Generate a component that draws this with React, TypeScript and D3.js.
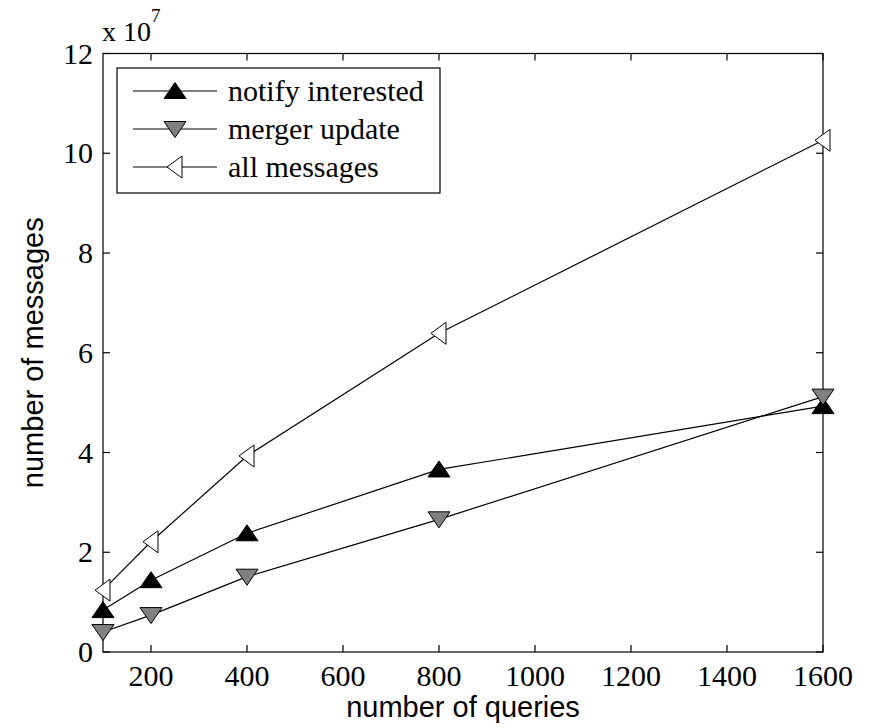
import { useEffect, useRef } from "react";
import * as d3 from "d3";

const queries = [100, 200, 400, 800, 1600];
const notifyInterested = [0.84, 1.44, 2.38, 3.66, 4.93];
const mergerUpdate = [0.4, 0.74, 1.51, 2.66, 5.12];
const allMessages = [1.24, 2.21, 3.93, 6.39, 10.26];
const xTicks = [200, 400, 600, 800, 1000, 1200, 1400, 1600];
const yTicks = [0, 2, 4, 6, 8, 10, 12];

type Shape = "up" | "down" | "left";

const series: { name: string; values: number[]; shape: Shape; fill: string }[] = [
  { name: "notify interested", values: notifyInterested, shape: "up", fill: "#000" },
  { name: "merger update", values: mergerUpdate, shape: "down", fill: "#808080" },
  { name: "all messages", values: allMessages, shape: "left", fill: "#fff" },
];

// marker outline, relative to its centre
const markerPath = (shape: Shape) => {
  if (shape === "up") return "M0,-8.5L11,7.5L-11,7.5Z";
  if (shape === "down") return "M0,8.5L11,-7.5L-11,-7.5Z";
  return "M-8,0L7,-11L7,11Z";
};

const App = () => {
  const ref = useRef<SVGSVGElement>(null!);

  useEffect(() => {
    document.body.style.margin = "0";
    const width = 869;
    const height = 728;
    const left = 103;
    const right = 823;
    const top = 53.5;
    const bottom = 652;
    const serif = "'Liberation Serif', 'Times New Roman', serif";
    const sans = "'Liberation Sans', Arial, sans-serif";

    const svg = d3.select(ref.current);
    svg.selectAll("*").remove();
    svg.attr("width", width).attr("height", height).style("background", "#fff");

    const x = d3.scaleLinear().domain([100, 1600]).range([left, right]);
    const y = d3.scaleLinear().domain([0, 12]).range([bottom, top]);
    const tick = 7;

    const axes = svg.append("g").attr("stroke", "#000").attr("stroke-width", 1.2);
    // ticks on all four sides, pointing inward
    xTicks.forEach((t) => {
      axes.append("line").attr("x1", x(t)).attr("x2", x(t)).attr("y1", bottom).attr("y2", bottom - tick);
      axes.append("line").attr("x1", x(t)).attr("x2", x(t)).attr("y1", top).attr("y2", top + tick);
    });
    yTicks.forEach((t) => {
      axes.append("line").attr("x1", left).attr("x2", left + tick).attr("y1", y(t)).attr("y2", y(t));
      axes.append("line").attr("x1", right).attr("x2", right - tick).attr("y1", y(t)).attr("y2", y(t));
    });
    axes
      .append("rect")
      .attr("x", left)
      .attr("y", top)
      .attr("width", right - left)
      .attr("height", bottom - top)
      .attr("fill", "none");

    svg
      .append("g")
      .selectAll("text")
      .data(xTicks)
      .enter()
      .append("text")
      .attr("x", (d) => x(d))
      .attr("y", 686)
      .attr("text-anchor", "middle")
      .attr("font-family", serif)
      .attr("font-size", 30)
      .text((d) => d);

    svg
      .append("g")
      .selectAll("text")
      .data(yTicks)
      .enter()
      .append("text")
      .attr("x", 93)
      .attr("y", (d) => y(d) + 10)
      .attr("text-anchor", "end")
      .attr("font-family", serif)
      .attr("font-size", 30)
      .text((d) => d);

    const expo = svg
      .append("text")
      .attr("x", 102)
      .attr("y", 41)
      .attr("font-family", serif)
      .attr("font-size", 28);
    expo.append("tspan").text("x 10");
    expo.append("tspan").attr("dy", -19).attr("font-size", 19).text("7");

    svg
      .append("text")
      .attr("x", (left + right) / 2)
      .attr("y", 717)
      .attr("text-anchor", "middle")
      .attr("font-family", sans)
      .attr("font-size", 29)
      .text("number of queries");

    svg
      .append("text")
      .attr("transform", `translate(43, ${(top + bottom) / 2}) rotate(-90)`)
      .attr("text-anchor", "middle")
      .attr("font-family", sans)
      .attr("font-size", 29)
      .text("number of messages");

    const line = d3
      .line<number>()
      .x((_, i) => x(queries[i]))
      .y((d) => y(d));

    series.forEach((s) => {
      svg
        .append("path")
        .attr("d", line(s.values))
        .attr("fill", "none")
        .attr("stroke", "#000")
        .attr("stroke-width", 1.2);
    });
    series.forEach((s) => {
      svg
        .append("g")
        .selectAll("path")
        .data(s.values)
        .enter()
        .append("path")
        .attr("d", markerPath(s.shape))
        .attr("transform", (d, i) => `translate(${x(queries[i])}, ${y(d)})`)
        .attr("fill", s.fill)
        .attr("stroke", "#000")
        .attr("stroke-width", 1);
    });

    // legend
    const legend = svg.append("g");
    legend
      .append("rect")
      .attr("x", 117)
      .attr("y", 68)
      .attr("width", 323)
      .attr("height", 125)
      .attr("fill", "#fff")
      .attr("stroke", "#000")
      .attr("stroke-width", 1.2);
    series.forEach((s, i) => {
      const ly = 91 + i * 38;
      legend
        .append("line")
        .attr("x1", 133)
        .attr("x2", 217)
        .attr("y1", ly)
        .attr("y2", ly)
        .attr("stroke", "#000")
        .attr("stroke-width", 1.2);
      legend
        .append("path")
        .attr("d", markerPath(s.shape))
        .attr("transform", `translate(175, ${ly})`)
        .attr("fill", s.fill)
        .attr("stroke", "#000");
      legend
        .append("text")
        .attr("x", 228)
        .attr("y", ly + 10)
        .attr("font-family", serif)
        .attr("font-size", 30)
        .text(s.name);
    });
  }, []);

  return <svg ref={ref} style={{ display: "block" }} />;
};

export default App;
